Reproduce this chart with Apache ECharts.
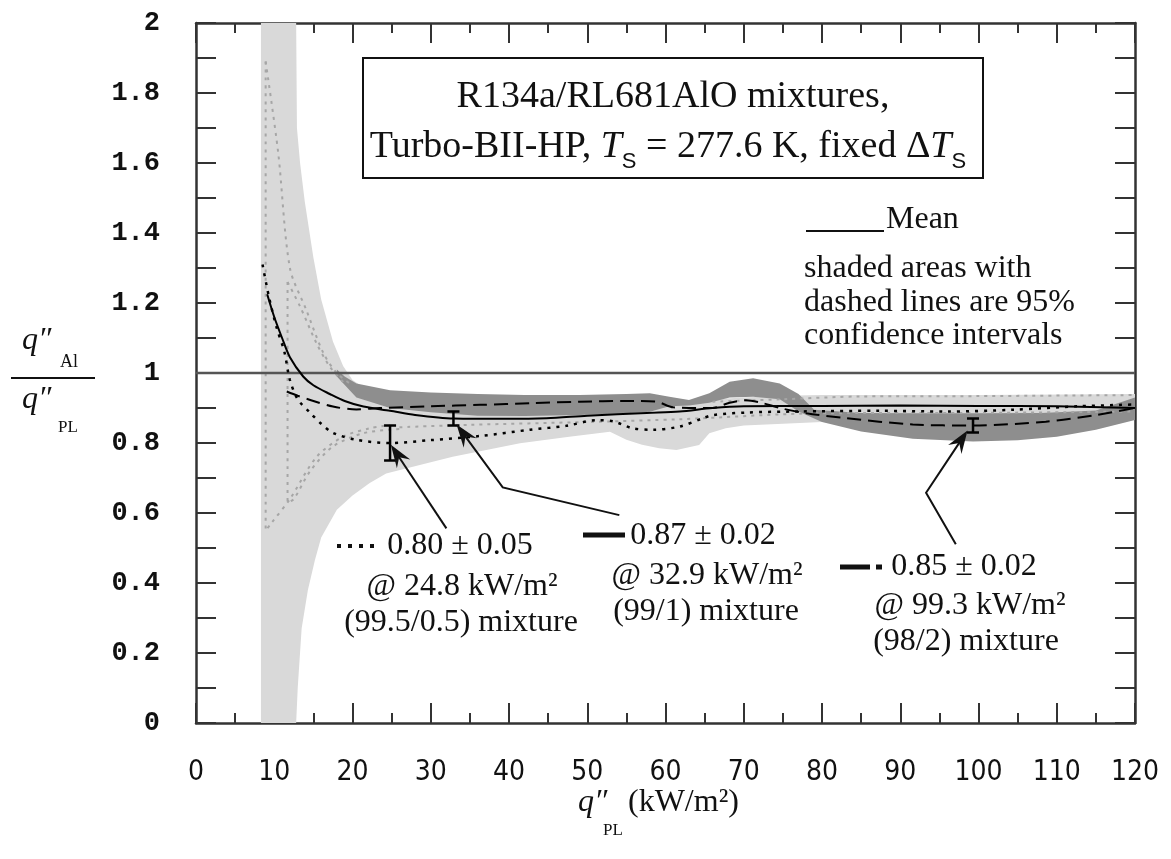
<!DOCTYPE html>
<html>
<head>
<meta charset="utf-8">
<script src="https://cdn.jsdelivr.net/npm/echarts@6/dist/echarts.min.js"></script>
<style>
  html, body { margin: 0; padding: 0; background: #fff; }
  #chart { width: 1171px; height: 859px; }
</style>
</head>
<body>
<div id="chart"></div>
<script>
// light grey envelope (95% CI of the 99.5/0.5 and 99/1 mixtures)
const lightTop = [[8.3,2],[12.8,2],[12.9,1.7],[13.3,1.6],[13.9,1.49],[15,1.33],[16,1.21],[17.5,1.09],[18.8,1.02],[20,0.98],[22,0.95],[25,0.935],[30,0.93],[60,0.93],[63,0.92],[66,0.925],[70,0.93],[75,0.935],[80,0.937],[100,0.937],[120,0.94]];
const lightBottom = [[8.3,0],[12.8,0],[13,0.1],[13.5,0.27],[14.3,0.38],[15.2,0.466],[16,0.53],[18,0.609],[20,0.65],[22.2,0.686],[24.3,0.713],[28.6,0.737],[32.8,0.761],[37.1,0.78],[41.4,0.799],[47.7,0.818],[52.9,0.832],[55,0.809],[57,0.795],[59.2,0.785],[61.4,0.78],[64.3,0.794],[65.6,0.828],[67.7,0.842],[70,0.85],[80,0.86],[90,0.868],[100,0.872],[110,0.875],[120,0.88]];

// dark grey band (95% CI of the 98/2 mixture)
const darkTop = [[18,1.01],[19,0.99],[20.5,0.97],[24.8,0.951],[30,0.944],[36,0.94],[42,0.937],[49,0.937],[55,0.94],[58,0.942],[60.5,0.932],[63,0.923],[65.6,0.942],[68.2,0.975],[71.2,0.985],[74.6,0.97],[77,0.94],[79,0.895],[85,0.886],[92,0.885],[100,0.885],[108,0.886],[115,0.893],[120,0.93]];
const darkBottom = [[18,0.99],[20.5,0.93],[24.8,0.9],[30,0.888],[36,0.878],[42,0.877],[49,0.88],[55,0.885],[58,0.889],[60.5,0.905],[63,0.907],[65.6,0.915],[68.2,0.93],[71.2,0.932],[74.6,0.925],[77,0.89],[80,0.86],[85,0.833],[91.6,0.812],[99.3,0.804],[105,0.808],[110,0.818],[115,0.838],[120,0.866]];

// mean curves
const mean995 = [[8.5,1.31],[9.3,1.22],[10.3,1.13],[11.3,1.06],[12,0.98],[13,0.925],[14.6,0.886],[16,0.855],[17.5,0.829],[20.5,0.809],[24.8,0.8],[29.9,0.808],[36.3,0.82],[42.7,0.838],[47.3,0.849],[51.2,0.865],[53.3,0.862],[55.8,0.842],[58.4,0.838],[61.8,0.847],[64.8,0.871],[66.1,0.88],[70.3,0.887],[76.7,0.89],[87.4,0.892],[95.9,0.89],[104.4,0.895],[112.9,0.905],[120,0.91]];
const mean991 = [[9.1,1.225],[10,1.16],[11,1.1],[12,1.045],[13.7,0.99],[15,0.965],[17.1,0.94],[19,0.92],[21.4,0.904],[24.8,0.892],[28,0.88],[32.9,0.87],[40,0.869],[44.8,0.871],[50,0.878],[57.6,0.886],[61.8,0.89],[66,0.9],[70,0.905],[80,0.906],[90,0.907],[100,0.906],[110,0.905],[120,0.9]];
const mean982 = [[11.6,0.947],[13,0.935],[14.6,0.923],[17.5,0.904],[20.5,0.896],[23.5,0.9],[30,0.905],[36.3,0.909],[43,0.914],[49,0.918],[55,0.92],[58.8,0.918],[61,0.902],[66,0.9],[68.2,0.915],[70.3,0.922],[72.4,0.914],[74.6,0.9],[78,0.885],[83,0.871],[91.6,0.853],[99.3,0.85],[108.6,0.861],[115,0.88],[120,0.9]];

// grey dotted CI edges
const ciEdges = [
  [[8.9,1.89],[8.9,1.2],[8.9,0.55],[9.6,0.57],[12,0.64],[15.4,0.76],[18.8,0.818],[22.2,0.842],[24.8,0.851]],
  [[8.9,1.89],[10.5,1.63],[12,1.3],[14.1,1.18],[16.3,1.056],[18,1.0],[20,0.965]],
  [[11.7,1.26],[11.7,0.63],[12.5,0.64],[14.6,0.72],[17.5,0.79],[21.4,0.828],[26,0.84]],
  [[11.7,1.26],[13.3,1.19],[15.4,1.085],[17.1,1.018],[19,0.97]],
  [[66,0.918],[75,0.925],[85,0.933],[100,0.934],[120,0.937]],
  [[26,0.845],[35,0.852],[50,0.86],[62,0.868],[80,0.885],[100,0.886],[120,0.89]]
];

// quoted means: [q, mean, half-width]
const errorBars = [[24.8, 0.80, 0.05], [32.9, 0.87, 0.02], [99.3, 0.85, 0.02]];

// annotation arrows (data units), last point is the tip
const arrows = [
  [[32.0,0.556],[24.9,0.795]],
  [[54.1,0.594],[39.2,0.673],[33.3,0.853]],
  [[97.1,0.511],[93.3,0.658],[98.6,0.836]]
];

const xTicks = [0, 120, 10];
const yTicks = [0, 2, 0.2];

const SERIF = '"Liberation Serif", "Times New Roman", serif';

const chart = echarts.init(document.getElementById('chart'));

function band(top, bottom, color, z) {
  const pts = top.concat(bottom.slice().reverse());
  return {
    type: 'custom', silent: true, z, clip: true,
    data: [top[0]],
    renderItem: (params, api) => ({
      type: 'polygon',
      shape: { points: pts.map(p => api.coord(p)) },
      style: { fill: color }
    })
  };
}

function curve(data, style, z) {
  return {
    type: 'line', data, showSymbol: false, silent: true, smooth: 0.3, z,
    lineStyle: Object.assign({ color: '#000', width: 2 }, style)
  };
}

const axisCommon = {
  type: 'value',
  axisLine: { show: true, onZero: false, lineStyle: { color: '#333', width: 2.5 } },
  axisTick: { show: true, inside: true, length: 20, lineStyle: { color: '#333', width: 2 } },
  splitLine: { show: false }
};

const series = [
  band(lightTop, lightBottom, '#d9d9d9', 1),
  band(darkTop, darkBottom, '#8e8e8e', 2),
  ...ciEdges.map(e => curve(e, { color: '#a6a6a6', width: 2, type: [3, 5] }, 3)),
  curve([[0,1],[120,1]], { color: '#555', width: 2.5 }, 3),
  curve(mean995, { type: [3, 6], width: 2.5 }, 4),
  curve(mean991, { width: 2 }, 4),
  curve(mean982, { type: [14, 7], width: 2 }, 4),
  {
    type: 'custom', silent: true, z: 5,
    data: errorBars,
    renderItem: (params, api) => {
      const x = api.value(0), m = api.value(1), h = api.value(2);
      const top = api.coord([x, m + h]), bot = api.coord([x, m - h]);
      const w = 6, st = { stroke: '#000', lineWidth: 2.5 };
      return {
        type: 'group', children: [
          { type: 'line', shape: { x1: top[0], y1: top[1], x2: bot[0], y2: bot[1] }, style: st },
          { type: 'line', shape: { x1: top[0] - w, y1: top[1], x2: top[0] + w, y2: top[1] }, style: st },
          { type: 'line', shape: { x1: bot[0] - w, y1: bot[1], x2: bot[0] + w, y2: bot[1] }, style: st }
        ]
      };
    }
  },
  {
    type: 'custom', silent: true, z: 6,
    data: arrows.map(a => a[a.length - 1]),
    renderItem: (params, api) => {
      const pts = arrows[params.dataIndex].map(p => api.coord(p));
      const tip = pts[pts.length - 1], prev = pts[pts.length - 2];
      const dx = tip[0] - prev[0], dy = tip[1] - prev[1];
      const len = Math.sqrt(dx * dx + dy * dy), ux = dx / len, uy = dy / len;
      const L = 23, W = 8;
      const bx = tip[0] - ux * L, by = tip[1] - uy * L;
      const line = pts.slice(0, -1).concat([[tip[0] - ux * 12, tip[1] - uy * 12]]);
      return {
        type: 'group', children: [
          { type: 'polyline', shape: { points: line }, style: { stroke: '#111', lineWidth: 2, fill: null } },
          { type: 'polygon', shape: { points: [tip, [bx - uy * W, by + ux * W], [tip[0] - ux * 15, tip[1] - uy * 15], [bx + uy * W, by - ux * W]] }, style: { fill: '#111' } }
        ]
      };
    }
  }
];

function txt(x, y, text, size, align, extra) {
  return {
    type: 'text', x, y, z: 100, silent: true,
    style: Object.assign({
      text, fill: '#111', fontSize: size, fontFamily: SERIF,
      align: align || 'center', textAlign: align || 'center',
      verticalAlign: 'middle', textVerticalAlign: 'middle'
    }, extra || {})
  };
}

const graphics = [
  // title box
  { type: 'rect', z: 100, silent: true, shape: { x: 363, y: 58, width: 620, height: 120 }, style: { fill: '#fff', stroke: '#111', lineWidth: 2 } },
  txt(673, 97, 'R134a/RL681AlO mixtures,', 38),
  txt(668, 147, '{n|Turbo-BII-HP, }{i|T}{s|S}{n| = 277.6 K, fixed Δ}{i|T}{s|S}', 38, 'center', {
    rich: {
      n: { fontSize: 38, fontFamily: SERIF, lineHeight: 52, fill: '#111' },
      i: { fontSize: 38, fontFamily: SERIF, fontStyle: 'italic', lineHeight: 52, fill: '#111' },
      s: { fontSize: 22, fontFamily: 'Liberation Sans, sans-serif', lineHeight: 24, verticalAlign: 'bottom', fill: '#111' }
    }
  }),
  // legend note
  { type: 'line', z: 100, silent: true, shape: { x1: 806, y1: 231, x2: 884, y2: 231 }, style: { stroke: '#111', lineWidth: 2 } },
  txt(886, 220, 'Mean', 32, 'left'),
  txt(804, 269, 'shaded areas with', 32, 'left'),
  txt(804, 303, 'dashed lines are 95%', 32, 'left'),
  txt(804, 336, 'confidence intervals', 32, 'left'),
  // annotation 99.5/0.5
  { type: 'line', z: 100, silent: true, shape: { x1: 337, y1: 546, x2: 380, y2: 546 }, style: { stroke: '#111', lineWidth: 4, lineDash: [4, 7] } },
  txt(460, 546, '0.80 ± 0.05', 32),
  txt(462, 587, '@ 24.8 kW/m²', 32),
  txt(461, 623, '(99.5/0.5) mixture', 32),
  // annotation 99/1
  { type: 'line', z: 100, silent: true, shape: { x1: 583, y1: 535, x2: 625, y2: 535 }, style: { stroke: '#111', lineWidth: 5 } },
  txt(703, 536, '0.87 ± 0.02', 32),
  txt(707, 576, '@ 32.9 kW/m²', 32),
  txt(706, 612, '(99/1) mixture', 32),
  // annotation 98/2
  { type: 'line', z: 100, silent: true, shape: { x1: 840, y1: 567, x2: 870, y2: 567 }, style: { stroke: '#111', lineWidth: 5 } },
  { type: 'line', z: 100, silent: true, shape: { x1: 876, y1: 567, x2: 882, y2: 567 }, style: { stroke: '#111', lineWidth: 5 } },
  txt(964, 567, '0.85 ± 0.02', 32),
  txt(970, 606, '@ 99.3 kW/m²', 32),
  txt(966, 642, '(98/2) mixture', 32),
  // y axis title (fraction)
  txt(22, 341, 'q″', 32, 'left', { fontStyle: 'italic' }),
  txt(60, 362, 'Al', 18, 'left'),
  { type: 'line', z: 100, silent: true, shape: { x1: 11, y1: 378, x2: 95, y2: 378 }, style: { stroke: '#111', lineWidth: 2 } },
  txt(22, 400, 'q″', 32, 'left', { fontStyle: 'italic' }),
  txt(58, 428, 'PL', 17, 'left'),
  // x axis title
  txt(578, 803, 'q″', 32, 'left', { fontStyle: 'italic' }),
  txt(603, 831, 'PL', 17, 'left'),
  txt(628, 803, '(kW/m²)', 32, 'left')
];

chart.setOption({
  animation: false,
  backgroundColor: '#fff',
  grid: { left: 196, right: 36, top: 23, bottom: 136, outerBoundsMode: 'none' },
  xAxis: [
    Object.assign({}, axisCommon, {
      min: xTicks[0], max: xTicks[1], interval: xTicks[2], position: 'bottom',
      minorTick: { show: true, splitNumber: 2, length: 10, lineStyle: { color: '#333', width: 2 } },
      axisLabel: { margin: 36, fontSize: 28, color: '#111', fontFamily: '"Liberation Sans Narrow", "DejaVu Sans Condensed", "Liberation Sans", sans-serif' }
    }),
    Object.assign({}, axisCommon, {
      min: xTicks[0], max: xTicks[1], interval: xTicks[2], position: 'top',
      minorTick: { show: true, splitNumber: 2, length: 10, lineStyle: { color: '#333', width: 2 } },
      axisLabel: { show: false }
    })
  ],
  yAxis: [
    Object.assign({}, axisCommon, {
      min: yTicks[0], max: yTicks[1], interval: yTicks[2], position: 'left',
      minorTick: { show: true, splitNumber: 2, length: 20, lineStyle: { color: '#333', width: 2 } },
      axisLabel: { margin: 36, fontSize: 27, fontWeight: 'bold', color: '#111', fontFamily: '"Liberation Mono", "DejaVu Sans Mono", monospace' }
    }),
    Object.assign({}, axisCommon, {
      min: yTicks[0], max: yTicks[1], interval: yTicks[2], position: 'right',
      minorTick: { show: true, splitNumber: 2, length: 20, lineStyle: { color: '#333', width: 2 } },
      axisLabel: { show: false }
    })
  ],
  series,
  graphic: { elements: graphics }
});
</script>
</body>
</html>
